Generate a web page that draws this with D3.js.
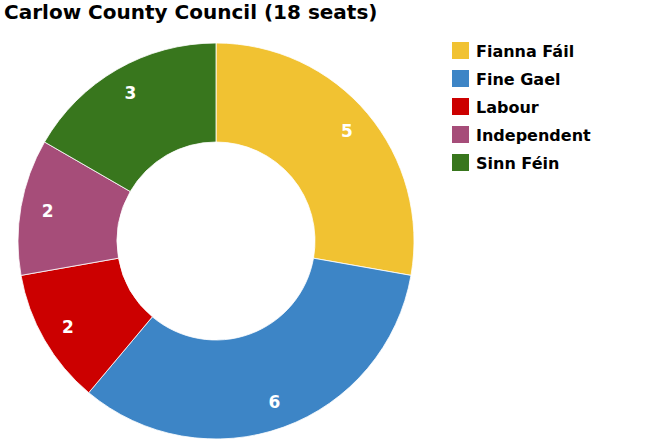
<!DOCTYPE html>
<meta charset="utf-8">
<html>
<head>
	<script src="https://cdn.jsdelivr.net/npm/d3@7"></script>
	<style>
		body { margin: 0; background: #fff; }
		text { font-family: "DejaVu Sans", Verdana, sans-serif; }
	</style>
</head>
<body>
	<div id="chart"></div>
	<script>
	var parties = ["Fianna Fáil", "Fine Gael", "Labour", "Independent", "Sinn Féin"];
	var seats = [5, 6, 2, 2, 3];
	var colours = ["#f1c232", "#3d85c6", "#cc0000", "#a64d79", "#38761d"];

	var svgWidth = 650;
	var svgHeight = 443;
	var cx = 216, cy = 241;
	var outerR = 198, innerR = 99, labelR = 171;

	var svg = d3.select("#chart").append("svg")
		.attr("width", svgWidth)
		.attr("height", svgHeight);

	svg.append("text")
		.attr("x", 4)
		.attr("y", 19)
		.attr("font-size", 20)
		.attr("font-weight", "bold")
		.attr("fill", "#000")
		.text("Carlow County Council (18 seats)");

	var colour = d3.scaleOrdinal().domain(parties).range(colours);

	var pie = d3.pie().sort(null).value(function(d) { return d.v; });
	var arc = d3.arc().innerRadius(innerR).outerRadius(outerR);
	var labelArc = d3.arc().innerRadius(labelR).outerRadius(labelR);

	var data = parties.map(function(p, i) { return {name: p, v: seats[i]}; });

	var g = svg.append("g").attr("transform", "translate(" + cx + "," + cy + ")");

	var slices = g.selectAll(".slice")
		.data(pie(data))
		.enter()
		.append("g")
		.attr("class", "slice");

	slices.append("path")
		.attr("d", arc)
		.attr("fill", function(d) { return colour(d.data.name); })
		.attr("stroke", "#fff")
		.attr("stroke-width", 0.8);

	slices.append("text")
		.attr("transform", function(d) { return "translate(" + labelArc.centroid(d) + ")"; })
		.attr("text-anchor", "middle")
		.attr("dy", "0.36em")
		.attr("font-size", 17)
		.attr("font-weight", "bold")
		.attr("fill", "#fff")
		.text(function(d) { return d.data.v; });

	// legend
	var legend = svg.selectAll(".legend")
		.data(parties)
		.enter()
		.append("g")
		.attr("class", "legend")
		.attr("transform", function(d, i) { return "translate(452," + (42 + i * 28) + ")"; });

	legend.append("rect")
		.attr("width", 17)
		.attr("height", 17)
		.attr("fill", function(d) { return colour(d); });

	legend.append("text")
		.attr("x", 24)
		.attr("y", 15)
		.attr("font-size", 16)
		.attr("font-weight", "bold")
		.attr("fill", "#000")
		.text(function(d) { return d; });
	</script>
</body>
</html>
